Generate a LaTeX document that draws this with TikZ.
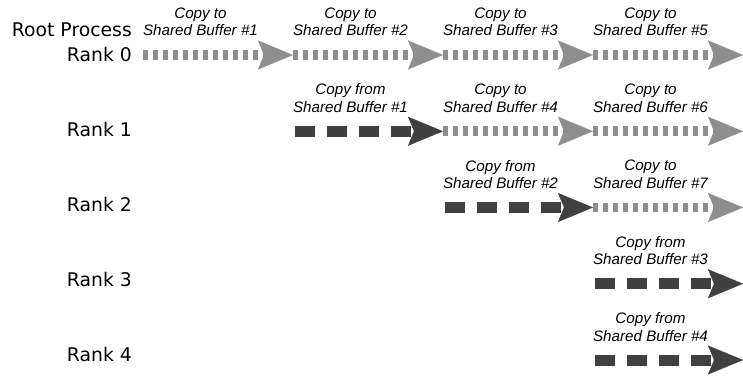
\documentclass[tikz,border=0pt]{standalone}
\usepackage{fontspec}
\setmainfont{DejaVu Sans}
\newfontfamily\capfont{Liberation Sans}
\usepackage{tikz}
\usetikzlibrary{calc,arrows.meta}
\definecolor{light}{HTML}{8E8E8E}
\definecolor{dark}{HTML}{404040}
\tikzset{
  toarr/.style={draw=light, line width=9.5pt, dash pattern=on 5pt off 5pt,
    -{Stealth[length=35pt,width=29pt,inset=6pt,line width=0.2pt,fill=light]}},
  fromarr/.style={draw=dark, line width=11pt, dash pattern=on 20pt off 12pt,
    -{Stealth[length=35pt,width=29pt,inset=6pt,line width=0.2pt,fill=dark]}},
  rank/.style={anchor=east, inner sep=0pt, font=\fontsize{18.8}{21}\selectfont},
  buflab/.style={align=center, inner sep=0pt, font=\capfont\itshape\fontsize{15.2}{17.5}\selectfont}
}

\begin{document}
\begin{tikzpicture}[x=1pt,y=-1pt]
  \useasboundingbox (0,0) rectangle (743,379);

  % row labels
  \node[rank] (root) at (132,30) {Root Process};
  \foreach \r in {0,...,4}
    \node[rank] (rank\r) at (132,{54.5+75.1*\r}) {Rank \r};

  % grid of arrow end points
  \foreach \r in {0,...,4}
    \foreach \c in {0,...,4}
      \coordinate (p\r\c) at ({143+150*\c},{55+76.25*\r});

  % copies to the shared buffers
  \foreach \r/\c/\d/\n in {0/0/1/1, 0/1/2/2, 0/2/3/3, 0/3/4/5, 1/2/3/4, 1/3/4/6, 2/3/4/7}{
    \draw[toarr] (p\r\c) -- (p\r\d);
    \node[buflab] (to\n) at ($(p\r\c)+(57.5,-33)$) {Copy to\\Shared Buffer \#\n};
  }

  % copies from the shared buffers
  \foreach \r/\c/\d/\n in {1/1/2/1, 2/2/3/2, 3/3/4/3, 4/3/4/4}{
    \draw[fromarr] ($(p\r\c)+(2,0)$) -- (p\r\d);
    \node[buflab] (from\n) at ($(p\r\c)+(57.5,-33)$) {Copy from\\Shared Buffer \#\n};
  }
\end{tikzpicture}
\end{document}
